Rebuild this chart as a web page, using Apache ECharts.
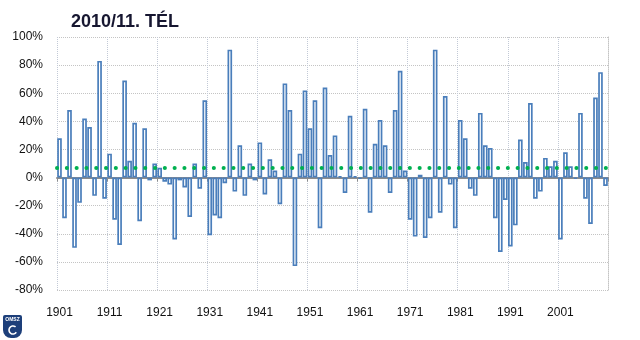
<!DOCTYPE html>
<html><head><meta charset="utf-8">
<script src="https://cdn.jsdelivr.net/npm/echarts@6/dist/echarts.min.js"></script>
<style>html,body{margin:0;padding:0;background:#fff}#c{width:640px;height:340px}</style>
</head><body><div id="c"></div>
<script>
const chartTitle = '2010/11. TÉL';
const years = [
  '1901','1902','1903','1904','1905','1906','1907','1908','1909','1910',
  '1911','1912','1913','1914','1915','1916','1917','1918','1919','1920',
  '1921','1922','1923','1924','1925','1926','1927','1928','1929','1930',
  '1931','1932','1933','1934','1935','1936','1937','1938','1939','1940',
  '1941','1942','1943','1944','1945','1946','1947','1948','1949','1950',
  '1951','1952','1953','1954','1955','1956','1957','1958','1959','1960',
  '1961','1962','1963','1964','1965','1966','1967','1968','1969','1970',
  '1971','1972','1973','1974','1975','1976','1977','1978','1979','1980',
  '1981','1982','1983','1984','1985','1986','1987','1988','1989','1990',
  '1991','1992','1993','1994','1995','1996','1997','1998','1999','2000',
  '2001','2002','2003','2004','2005','2006','2007','2008','2009','2010'
];
const deviation = [
  28, -29, 48, -50, -18, 42, 36, -13, 83, -15,
  17, -30, -48, 69, 12, 39, -31, 35, -2, 10,
  7, -3, -5, -44, -2, -7, -28, 10, -8, 55,
  -41, -27, -29, -4, 91, -10, 23, -13, 10, -2,
  25, -12, 13, 5, -19, 67, 48, -63, 17, 62,
  35, 55, -36, 64, 16, 30, 1, -11, 44, 1,
  -1, 49, -25, 24, 41, 23, -11, 48, 76, 5,
  -30, -42, 2, -43, -29, 91, -25, 58, -5, -36,
  41, 28, -8, -13, 46, 23, 21, -29, -53, -16,
  -49, -34, 27, 11, 53, -15, -10, 14, 8, 12,
  -44, 18, 8, -1, 46, -15, -33, 57, 75, -6
];
const meanLevel = 7;
const yMin = -80, yMax = 100, yStep = 20;

const chart = echarts.init(document.getElementById('c'), null, {renderer: 'canvas'});
chart.setOption({
  animation: false,
  backgroundColor: '#ffffff',
  title: {
    text: chartTitle, left: 66, top: 8,
    textStyle: {fontFamily: 'Liberation Sans', fontWeight: 'bold', fontSize: 18, color: '#161630'}
  },
  grid: {left: 57, right: 32, top: 37, bottom: 50, show: false},
  xAxis: [{
    type: 'category', data: years, position: 'bottom',
    axisLine: {show: false, onZero: false},
    axisTick: {show: false},
    axisLabel: {interval: 9, margin: 17, color: '#111111', fontFamily: 'Liberation Sans', fontSize: 12},
    splitLine: {show: true, interval: 9, lineStyle: {color: '#c2c9d6', type: 'dotted', width: 1}}
  }, {
    type: 'category', data: years, position: 'top',
    axisLine: {show: true, onZero: true, lineStyle: {color: '#8c8c8c', width: 2}},
    axisTick: {show: true, interval: 9, inside: true, length: 4, lineStyle: {color: '#8c8c8c'}},
    axisLabel: {show: false},
    splitLine: {show: false}
  }],
  yAxis: [{
    type: 'value', min: yMin, max: yMax, interval: yStep,
    axisLine: {show: false}, axisTick: {show: false},
    axisLabel: {formatter: '{value}%', margin: 14, color: '#111111', fontFamily: 'Liberation Sans', fontSize: 12},
    splitLine: {show: true, lineStyle: {color: '#c4c4c4', type: 'dotted', width: 1}}
  }, {
    type: 'value', min: yMin, max: yMax, interval: yStep, position: 'right',
    axisLine: {show: true, lineStyle: {color: '#c4c4c4', type: 'dotted', width: 1}},
    axisTick: {show: false}, axisLabel: {show: false}, splitLine: {show: false}
  }],
  series: [{
    type: 'bar', data: deviation, xAxisIndex: 0, yAxisIndex: 0,
    barCategoryGap: '8%',
    itemStyle: {color: '#ffffff', borderColor: '#4a7ebb', borderWidth: 1.7},
    markLine: {
      silent: true, symbol: 'none', label: {show: false},
      lineStyle: {color: '#00b050', width: 4, type: [0.1, 9.7], cap: 'round'},
      data: [{yAxis: meanLevel}]
    },
    z: 2
  }],
  graphic: [{
    type: 'group', left: 3, top: 315,
    children: [
      {type: 'rect', shape: {x: 0, y: 0, width: 19, height: 23, r: [2, 2, 8, 8]}, style: {fill: '#1d3f7a'}},
      {type: 'text', style: {text: 'OMSZ', x: 9.5, y: 2, fill: '#ffffff', font: 'bold 5px sans-serif', textAlign: 'center'}},
      {type: 'arc', shape: {cx: 10, cy: 15, r: 4, startAngle: 0.6, endAngle: 5.4}, style: {stroke: '#ffffff', lineWidth: 1.6, fill: null}}
    ]
  }]
});
</script>
</body></html>
